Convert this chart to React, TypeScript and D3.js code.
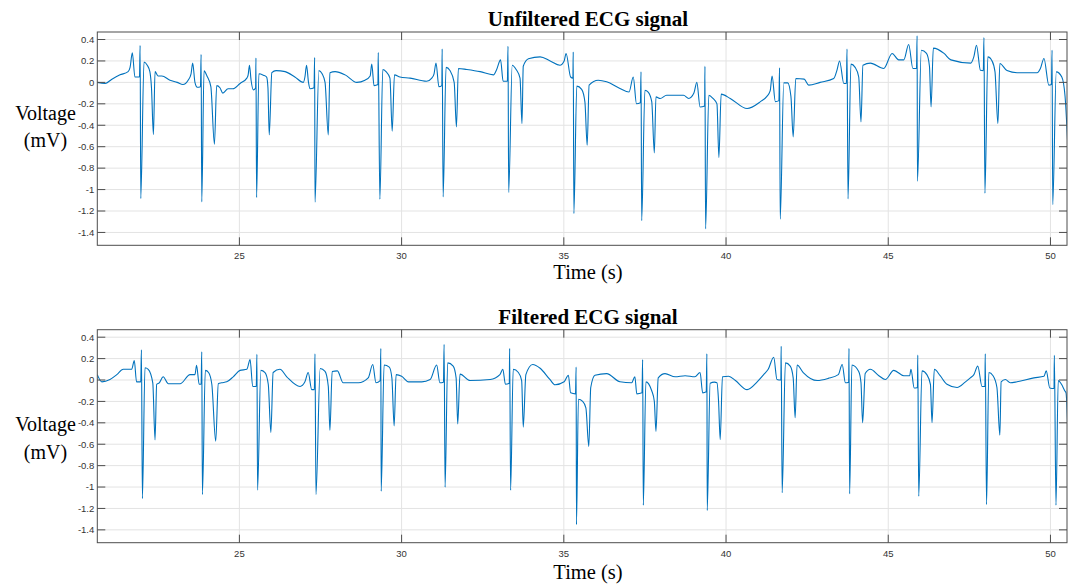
import React from 'react';
import * as d3 from 'd3';

const W = 1077;
const H = 585;

// axis ticks
const xTicks = [25, 30, 35, 40, 45, 50];
const yTicks = [0.4, 0.2, 0, -0.2, -0.4, -0.6, -0.8, -1, -1.2, -1.4];
const xDomain: [number, number] = [20.62, 50.51];
const yDomain: [number, number] = [-1.52, 0.47];

const titles = ['Unfiltered ECG signal', 'Filtered ECG signal'];

// [time (s), voltage (mV)]
const unfiltered: [number, number][] = [
	[20.62, 0.0], [20.86, -0.01], [21.07, 0.03], [21.32, 0.07], [21.57, 0.1], [21.63, 0.14],
	[21.7, 0.275], [21.78, 0.05], [21.92, 0.05], [21.94, 0.344], [21.96, -1.083], [22.06, 0.19],
	[22.16, 0.16], [22.24, 0.1], [22.29, -0.05], [22.35, -0.486], [22.4, 0.1], [22.49, 0.06],
	[22.61, 0.06], [22.86, 0.02], [23.08, 0.0], [23.26, -0.02], [23.42, 0.02], [23.51, 0.08],
	[23.56, 0.18], [23.63, 0.0], [23.7, -0.045], [23.8, -0.04], [23.82, 0.26], [23.84, -1.115],
	[23.91, 0.107], [24.0, 0.06], [24.12, -0.04], [24.23, -0.577], [24.3, -0.03], [24.4, -0.05],
	[24.49, -0.1], [24.65, -0.06], [24.8, -0.06], [25.02, -0.01], [25.23, 0.04], [25.27, 0.07],
	[25.31, 0.16], [25.36, 0.02], [25.43, -0.07], [25.5, -0.05], [25.51, 0.228], [25.53, -1.074],
	[25.6, 0.08], [25.74, 0.067], [25.84, 0.05], [25.88, -0.05], [25.92, -0.49], [26.0, 0.09],
	[26.13, 0.11], [26.41, 0.1], [26.71, 0.05], [26.97, 0.0], [27.02, 0.05], [27.07, 0.16],
	[27.13, 0.0], [27.18, -0.06], [27.3, -0.05], [27.32, 0.232], [27.33, -1.118], [27.45, 0.11],
	[27.55, 0.08], [27.64, 0.0], [27.74, -0.49], [27.79, 0.09], [27.95, 0.1], [28.26, 0.07],
	[28.62, 0.0], [28.87, 0.02], [29.03, 0.06], [29.08, 0.17], [29.15, -0.03], [29.27, -0.02],
	[29.28, 0.279], [29.33, -1.09], [29.42, 0.12], [29.52, 0.1], [29.64, 0.04], [29.71, -0.455],
	[29.78, 0.07], [29.95, 0.05], [30.26, 0.04], [30.77, 0.01], [30.93, 0.04], [31.0, 0.08],
	[31.06, 0.18], [31.15, -0.04], [31.24, -0.03], [31.25, 0.312], [31.28, -1.068], [31.37, 0.14],
	[31.49, 0.11], [31.62, 0.0], [31.69, -0.415], [31.75, 0.13], [32.01, 0.12], [32.42, 0.1],
	[32.83, 0.07], [32.93, 0.12], [33.05, 0.21], [33.13, 0.01], [33.26, 0.01], [33.28, 0.337],
	[33.3, -1.027], [33.41, 0.16], [33.53, 0.12], [33.65, 0.04], [33.71, -0.384], [33.75, 0.15],
	[33.91, 0.22], [34.27, 0.238], [34.58, 0.2], [34.88, 0.16], [35.01, 0.2], [35.07, 0.27],
	[35.21, 0.05], [35.28, 0.04], [35.29, 0.284], [35.31, -1.223], [35.4, -0.035], [35.55, -0.065],
	[35.65, -0.182], [35.72, -0.586], [35.78, -0.026], [36.06, 0.02], [36.32, 0.005], [36.73, -0.057],
	[37.01, -0.09], [37.14, 0.05], [37.24, -0.2], [37.36, -0.19], [37.38, 0.098], [37.4, -1.29],
	[37.5, -0.073], [37.6, -0.09], [37.71, -0.18], [37.79, -0.658], [37.84, -0.135], [37.97, -0.15],
	[38.17, -0.12], [38.69, -0.12], [38.85, -0.15], [39.01, -0.1], [39.1, 0.0], [39.2, -0.23],
	[39.34, -0.22], [39.35, 0.15], [39.37, -1.367], [39.47, -0.12], [39.6, -0.15], [39.72, -0.2],
	[39.78, -0.7], [39.85, -0.11], [40.13, -0.15], [40.65, -0.244], [41.06, -0.18], [41.26, -0.13],
	[41.36, -0.08], [41.42, 0.058], [41.52, -0.18], [41.63, -0.17], [41.65, 0.135], [41.67, -1.276],
	[41.78, -0.005], [41.9, -0.005], [42.0, -0.13], [42.07, -0.508], [42.15, 0.036], [42.41, 0.03],
	[42.55, -0.026], [42.9, 0.0], [43.32, 0.036], [43.42, 0.114], [43.5, 0.2], [43.63, -0.01],
	[43.71, -0.01], [43.73, 0.31], [43.76, -1.087], [43.85, 0.17], [43.98, 0.14], [44.09, 0.05],
	[44.16, -0.369], [44.22, 0.16], [44.45, 0.18], [44.86, 0.13], [45.12, 0.27], [45.32, 0.21],
	[45.48, 0.21], [45.63, 0.353], [45.76, 0.13], [45.87, 0.13], [45.89, 0.434], [45.9, -0.922],
	[46.02, 0.3], [46.18, 0.27], [46.27, 0.15], [46.32, -0.229], [46.39, 0.32], [46.72, 0.27],
	[46.93, 0.21], [47.54, 0.18], [47.64, 0.24], [47.72, 0.347], [47.84, 0.114], [47.93, 0.11],
	[47.95, 0.418], [47.98, -1.034], [48.07, 0.238], [48.2, 0.2], [48.29, 0.1], [48.38, -0.384],
	[48.44, 0.176], [48.66, 0.11], [48.97, 0.09], [49.59, 0.09], [49.69, 0.13], [49.8, 0.223],
	[49.95, -0.026], [50.03, -0.02], [50.05, 0.3], [50.07, -1.14], [50.18, 0.098], [50.35, 0.05],
	[50.45, -0.13], [50.53, -0.56]
];

const filtered: [number, number][] = [
	[20.62, 0.05], [20.76, -0.017], [21.01, 0.005], [21.22, 0.05], [21.42, 0.1], [21.68, 0.1],
	[21.76, 0.182], [21.83, -0.017], [21.96, -0.017], [21.98, 0.282], [22.01, -1.107], [22.09, 0.114],
	[22.19, 0.1], [22.33, -0.026], [22.4, -0.559], [22.45, -0.04], [22.53, -0.026], [22.65, 0.03],
	[22.81, -0.035], [23.17, -0.035], [23.48, 0.05], [23.63, 0.05], [23.68, 0.138], [23.76, -0.04],
	[23.82, -0.04], [23.84, 0.263], [23.86, -1.07], [23.95, 0.09], [24.05, 0.07], [24.15, -0.04],
	[24.27, -0.572], [24.35, -0.035], [24.45, -0.026], [24.61, -0.017], [24.81, 0.03], [25.02, 0.09],
	[25.23, 0.1], [25.33, 0.19], [25.41, -0.06], [25.52, -0.06], [25.54, 0.24], [25.56, -1.03],
	[25.66, 0.09], [25.79, 0.07], [25.89, -0.04], [25.97, -0.49], [26.04, 0.07], [26.25, 0.1],
	[26.46, 0.03], [26.87, -0.06], [27.02, -0.017], [27.12, 0.07], [27.23, -0.09], [27.31, -0.09],
	[27.33, 0.245], [27.36, -1.07], [27.49, 0.107], [27.64, 0.08], [27.74, -0.06], [27.79, -0.47],
	[27.86, 0.08], [28.02, 0.085], [28.2, -0.026], [28.67, -0.026], [28.97, 0.02], [29.11, 0.145],
	[29.21, -0.026], [29.34, -0.005], [29.36, 0.295], [29.37, -1.04], [29.46, 0.14], [29.62, 0.12],
	[29.7, 0.02], [29.77, -0.43], [29.83, 0.05], [30.0, 0.035], [30.21, -0.017], [30.62, -0.017],
	[30.88, 0.005], [31.08, 0.14], [31.18, -0.026], [31.29, -0.02], [31.31, 0.332], [31.34, -1.002],
	[31.42, 0.16], [31.59, 0.13], [31.68, 0.02], [31.73, -0.41], [31.8, 0.055], [32.11, -0.005],
	[32.73, 0.005], [33.03, 0.05], [33.12, 0.1], [33.2, -0.04], [33.32, -0.03], [33.33, 0.295],
	[33.36, -1.03], [33.44, 0.1], [33.6, 0.07], [33.7, -0.005], [33.75, -0.44], [33.83, 0.05],
	[34.04, 0.145], [34.27, 0.11], [34.57, 0.005], [34.73, -0.045], [35.01, -0.017], [35.14, 0.045],
	[35.21, -0.12], [35.36, -0.13], [35.38, 0.12], [35.39, -1.35], [35.45, -0.18], [35.58, -0.2],
	[35.68, -0.26], [35.77, -0.62], [35.83, -0.07], [35.96, 0.045], [36.32, 0.06], [36.73, -0.017],
	[37.09, -0.026], [37.19, 0.03], [37.25, -0.13], [37.41, -0.12], [37.43, 0.19], [37.45, -1.17],
	[37.53, -0.017], [37.71, -0.1], [37.79, -0.2], [37.84, -0.48], [37.91, 0.02], [38.12, 0.06],
	[38.43, 0.03], [38.74, 0.04], [39.04, 0.03], [39.2, 0.07], [39.28, -0.12], [39.39, -0.11],
	[39.41, 0.245], [39.42, -1.22], [39.51, -0.03], [39.64, -0.02], [39.72, -0.026], [39.77, -0.2],
	[39.82, -0.556], [39.89, 0.03], [40.08, 0.035], [40.29, -0.005], [40.65, -0.09], [40.96, -0.017],
	[41.16, 0.05], [41.3, 0.1], [41.47, 0.213], [41.57, 0.005], [41.69, 0.0], [41.7, 0.316],
	[41.73, -1.054], [41.83, 0.16], [41.98, 0.13], [42.07, 0.02], [42.13, -0.353], [42.19, 0.14],
	[42.38, 0.07], [42.81, -0.005], [43.15, 0.015], [43.46, 0.05], [43.58, 0.145], [43.68, -0.026],
	[43.78, -0.02], [43.79, 0.295], [43.81, -1.063], [43.88, 0.14], [44.09, 0.08], [44.16, -0.026],
	[44.21, -0.4], [44.29, 0.06], [44.45, 0.1], [44.71, 0.04], [44.91, 0.005], [45.17, 0.09],
	[45.48, 0.04], [45.66, 0.04], [45.7, 0.1], [45.8, -0.075], [45.9, -0.07], [45.91, 0.232],
	[45.94, -1.086], [46.04, 0.085], [46.19, 0.05], [46.3, -0.04], [46.35, -0.4], [46.42, 0.1],
	[46.6, 0.04], [46.81, -0.04], [47.12, -0.07], [47.38, -0.017], [47.53, 0.02], [47.64, 0.05],
	[47.76, 0.13], [47.89, -0.06], [47.98, -0.06], [47.99, 0.245], [48.03, -1.163], [48.1, 0.07],
	[48.23, 0.04], [48.35, -0.07], [48.44, -0.516], [48.48, -0.017], [48.61, 0.005], [48.76, -0.026],
	[48.97, -0.017], [49.49, 0.02], [49.8, 0.035], [49.87, 0.085], [49.98, -0.075], [50.11, -0.08],
	[50.12, 0.23], [50.17, -1.17], [50.24, -0.005], [50.34, -0.04], [50.44, -0.1], [50.48, -0.12],
	[50.53, -0.42]
];

const series = [unfiltered, filtered];

const left = 97.3;
const right = 1067;
const panels = [
	{ top: 32, bottom: 245.3, titleY: 26, xLabelY: 279, yLabelY: [120, 147] },
	{ top: 329.7, bottom: 542.7, titleY: 324, xLabelY: 579, yLabelY: [431, 459] }
];

const axisColor = '#4d4d4d';
const gridColor = '#e3e3e3';
const lineColor = '#0072BD';
const tickLen = 8;

function Panel({ idx }: { idx: number }) {
	const p = panels[idx];
	const x = d3.scaleLinear().domain(xDomain).range([left, right]);
	const y = d3.scaleLinear().domain(yDomain).range([p.bottom, p.top]);
	const line = d3
		.line<[number, number]>()
		.x(d => x(d[0]))
		.y(d => y(d[1]))
		.curve(d3.curveMonotoneX);
	const clipId = `clip-${idx}`;
	return (
		<g>
			<defs>
				<clipPath id={clipId}>
					<rect x={left} y={p.top} width={right - left} height={p.bottom - p.top} />
				</clipPath>
			</defs>
			<rect x={left} y={p.top} width={right - left} height={p.bottom - p.top} fill="#fff" />
			{yTicks.map(t => (
				<line key={'gy' + t} x1={left} x2={right} y1={y(t)} y2={y(t)} stroke={gridColor} strokeWidth={1} />
			))}
			{xTicks.map(t => (
				<line key={'gx' + t} x1={x(t)} x2={x(t)} y1={p.top} y2={p.bottom} stroke={gridColor} strokeWidth={1} />
			))}
			<path d={line(series[idx]) || ''} fill="none" stroke={lineColor} strokeWidth={1.1} clipPath={`url(#${clipId})`} strokeLinejoin="round" />
			<rect x={left} y={p.top} width={right - left} height={p.bottom - p.top} fill="none" stroke={axisColor} strokeWidth={1} />
			{yTicks.map(t => (
				<g key={'ty' + t}>
					<line x1={left} x2={left + tickLen} y1={y(t)} y2={y(t)} stroke={axisColor} />
					<line x1={right - tickLen} x2={right} y1={y(t)} y2={y(t)} stroke={axisColor} />
					<text x={left - 3} y={y(t)} dy="0.35em" textAnchor="end" fontSize={9.5} fill="#333" fontFamily="Liberation Sans, Arial, sans-serif">
						{String(t)}
					</text>
				</g>
			))}
			{xTicks.map(t => (
				<g key={'tx' + t}>
					<line x1={x(t)} x2={x(t)} y1={p.bottom} y2={p.bottom - tickLen} stroke={axisColor} />
					<line x1={x(t)} x2={x(t)} y1={p.top} y2={p.top + tickLen} stroke={axisColor} />
					<text x={x(t)} y={p.bottom + 14} textAnchor="middle" fontSize={9.5} fill="#333" fontFamily="Liberation Sans, Arial, sans-serif">
						{String(t)}
					</text>
				</g>
			))}
			<text x={588} y={p.titleY} textAnchor="middle" fontSize={21} fontWeight="bold" fontFamily="Liberation Serif, Times New Roman, serif" fill="#000">
				{titles[idx]}
			</text>
			<text x={588} y={p.xLabelY} textAnchor="middle" fontSize={20.5} fontFamily="Liberation Serif, Times New Roman, serif" fill="#000">
				Time (s)
			</text>
			<text x={45.5} y={p.yLabelY[0]} textAnchor="middle" fontSize={20} fontFamily="Liberation Serif, Times New Roman, serif" fill="#000">
				Voltage
			</text>
			<text x={45.5} y={p.yLabelY[1]} textAnchor="middle" fontSize={20} fontFamily="Liberation Serif, Times New Roman, serif" fill="#000">
				(mV)
			</text>
		</g>
	);
}

export default function App() {
	return (
		<svg width={W} height={H} style={{ position: 'absolute', left: 0, top: 0, background: '#fff' }}>
			<rect width={W} height={H} fill="#fff" />
			<Panel idx={0} />
			<Panel idx={1} />
		</svg>
	);
}
